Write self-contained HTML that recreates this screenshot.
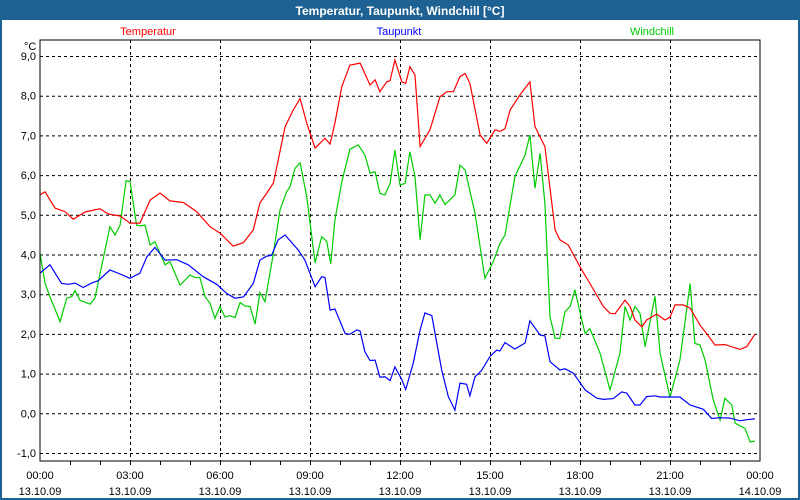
<!DOCTYPE html>
<html><head><meta charset="utf-8"><style>
html,body{margin:0;padding:0;background:#fff}
svg{display:block;font-family:"Liberation Sans",sans-serif}
</style></head><body>
<svg id="c" width="800" height="500" xmlns="http://www.w3.org/2000/svg">
<rect x="0" y="0" width="800" height="500" fill="#1e6193"/>
<rect x="2" y="20" width="796" height="478" fill="#fff"/>
<text x="400" y="15" text-anchor="middle" fill="#fff" font-weight="bold" font-size="12">Temperatur, Taupunkt, Windchill [°C]</text>
<text x="148" y="35" text-anchor="middle" fill="#f00" font-size="11">Temperatur</text>
<text x="399" y="35" text-anchor="middle" fill="#00f" font-size="11">Taupunkt</text>
<text x="652" y="35" text-anchor="middle" fill="#0c0" font-size="11">Windchill</text>
<text x="24" y="50" font-size="11">°C</text>
<g id="grid"></g>
<g id="series"></g>
<rect x="40" y="40" width="720" height="421" fill="none" stroke="#000" stroke-width="1"/>
</svg>
<script>
const yTicks=[9,8,7,6,5,4,3,2,1,0,-1];
const xTickHours=[0,3,6,9,12,15,18,21,24];
const xTickTimes=["00:00","03:00","06:00","09:00","12:00","15:00","18:00","21:00","00:00"];
const xTickDates=["13.10.09","13.10.09","13.10.09","13.10.09","13.10.09","13.10.09","13.10.09","13.10.09","14.10.09"];
const tempHours=[0,.17,.5,.83,1.11,1.5,2,2.28,2.67,3,3.33,3.67,4,4.33,4.78,5.22,5.67,6,6.44,6.78,7.11,7.33,7.56,7.78,7.94,8.17,8.44,8.67,8.89,9.17,9.5,9.67,9.83,10.06,10.33,10.67,11,11.17,11.33,11.56,11.67,11.83,12.06,12.19,12.33,12.5,12.67,13,13.33,13.56,13.78,14,14.17,14.33,14.67,14.89,15.17,15.33,15.5,15.67,16,16.33,16.5,16.83,17.17,17.33,17.61,18,18.33,18.78,19,19.17,19.5,19.67,19.83,20.06,20.22,20.56,20.83,21,21.17,21.44,21.67,22,22.22,22.5,22.83,23.33,23.56,23.83];
const tempValues=[5.5,5.58,5.17,5.08,4.89,5.07,5.15,5.02,4.97,4.79,4.79,5.37,5.55,5.35,5.31,5.08,4.7,4.54,4.21,4.3,4.62,5.3,5.55,5.8,6.38,7.22,7.64,7.93,7.31,6.68,6.93,6.78,7.31,8.23,8.77,8.82,8.27,8.4,8.1,8.35,8.38,8.9,8.35,8.31,8.73,8.52,6.72,7.14,7.97,8.1,8.1,8.48,8.56,8.31,7.01,6.8,7.14,7.1,7.17,7.64,8.02,8.35,7.22,6.72,4.62,4.37,4.24,3.69,3.27,2.69,2.52,2.51,2.85,2.69,2.35,2.18,2.35,2.5,2.35,2.42,2.73,2.73,2.65,2.22,2.01,1.72,1.73,1.61,1.68,1.99];
const dewHours=[0,.33,.72,.94,1.17,1.44,1.72,1.94,2.33,2.67,3,3.33,3.56,3.83,4.17,4.56,4.94,5.44,5.89,6.22,6.5,6.78,7.11,7.33,7.56,7.72,7.94,8.17,8.61,8.83,9.17,9.39,9.5,9.67,9.83,10.17,10.33,10.56,10.67,10.83,11,11.17,11.33,11.5,11.67,11.83,12.06,12.19,12.44,12.67,12.83,13.06,13.39,13.61,13.83,14,14.22,14.33,14.5,14.72,15,15.22,15.33,15.5,15.83,16.17,16.33,16.67,16.83,17,17.33,17.5,17.78,18.17,18.56,18.78,19.11,19.39,19.56,19.83,20,20.22,20.5,20.67,21.33,21.67,22.11,22.39,22.67,23,23.33,23.56,23.83];
const dewValues=[3.53,3.74,3.27,3.25,3.28,3.17,3.28,3.34,3.61,3.51,3.4,3.53,3.94,4.18,3.86,3.87,3.74,3.44,3.25,3.02,2.9,2.93,3.27,3.86,3.96,3.98,4.37,4.49,4.11,3.86,3.19,3.44,3.42,2.6,2.63,2.01,1.99,2.1,2.07,1.55,1.33,1.34,.91,.92,.82,1.17,.85,.6,1.26,2.1,2.53,2.46,1.09,.42,.08,.76,.73,.44,.92,1.08,1.43,1.59,1.57,1.78,1.62,1.77,2.33,1.97,1.95,1.3,1.09,1.12,1.01,.59,.38,.35,.37,.54,.51,.21,.21,.42,.44,.41,.41,.21,.1,-.13,-.11,-.12,-.19,-.16,-.14];
const windHours=[0,.17,.33,.67,.89,1.06,1.17,1.33,1.67,1.83,2.33,2.5,2.67,2.87,3,3.22,3.33,3.5,3.67,3.83,4.17,4.33,4.67,5,5.17,5.33,5.5,5.67,5.83,6,6.17,6.33,6.5,6.67,6.83,7,7.17,7.33,7.5,7.78,8,8.22,8.33,8.5,8.67,8.89,9.17,9.39,9.56,9.69,9.83,10.06,10.33,10.61,10.83,11,11.17,11.33,11.5,11.67,11.83,12,12.17,12.33,12.5,12.67,12.83,13,13.17,13.33,13.5,13.83,14,14.17,14.5,14.83,15.11,15.33,15.5,15.83,16.17,16.33,16.5,16.67,16.83,17,17.17,17.33,17.5,17.67,17.83,18.06,18.17,18.33,18.67,19,19.33,19.5,19.67,19.83,20,20.17,20.5,20.67,21,21.33,21.67,21.83,22,22.17,22.44,22.67,22.83,23.06,23.17,23.5,23.67,23.83];
const windValues=[4.03,3.27,2.94,2.31,2.9,2.94,3.09,2.85,2.75,2.9,4.7,4.49,4.74,5.86,5.84,4.74,4.72,4.74,4.24,4.32,3.74,3.82,3.23,3.48,3.42,3.42,2.94,2.77,2.39,2.69,2.42,2.46,2.41,2.79,2.7,2.69,2.25,3.04,2.81,4.03,5.12,5.58,5.7,6.17,6.31,5.46,3.79,4.45,4.33,3.76,4.87,5.83,6.65,6.76,6.51,6.05,6.08,5.54,5.5,5.79,6.63,5.75,5.79,6.59,5.96,4.37,5.5,5.5,5.29,5.5,5.26,5.5,6.25,6.13,5.04,3.4,3.82,4.28,4.49,5.96,6.51,7.01,5.67,6.55,5.29,2.43,1.89,1.89,2.56,2.69,3.11,2.35,2.01,2.13,1.51,.59,1.51,2.69,2.35,2.69,2.52,1.68,2.95,1.51,.4,1.34,3.27,1.76,1.72,1.34,.34,-.17,.38,.21,-.25,-.38,-.72,-.7];

const NS="http://www.w3.org/2000/svg";
const X0=40,X1=760,Y9=56,Ym1=453;
function xs(h){return X0+(X1-X0)*h/24;}
function ys(v){return Ym1-(v+1)*(Ym1-Y9)/10;}
const grid=document.getElementById('grid');
function mk(tag,attrs,parent){const e=document.createElementNS(NS,tag);for(const k in attrs)e.setAttribute(k,attrs[k]);parent.appendChild(e);return e;}
yTicks.forEach(v=>{
  const l=mk('line',{x1:X0,x2:X1,y1:ys(v)+.5,y2:ys(v)+.5,stroke:'#000','stroke-dasharray':'3,3'},grid);
  
  
  const t=mk('text',{x:36,y:ys(v)+4,'text-anchor':'end','font-size':11},grid);
  t.textContent=v.toFixed(1).replace('.',',');
  
  
});
for(let h=1;h<24;h++){
  const tk=mk('line',{x1:xs(h)+.5,x2:xs(h)+.5,y1:461,y2:465,stroke:'#000'},grid);
  
  
}
xTickHours.forEach((h,i)=>{
  if(h>0&&h<24){
    const l=mk('line',{x1:xs(h)+.5,x2:xs(h)+.5,y1:40,y2:461,stroke:'#000','stroke-dasharray':'3,3'},grid);
    
    
  }
  const t1=mk('text',{x:xs(h),y:479,'text-anchor':'middle','font-size':11},grid);
  t1.textContent=xTickTimes[i];
  
  
  const t2=mk('text',{x:xs(h),y:495,'text-anchor':'middle','font-size':11},grid);
  t2.textContent=xTickDates[i];
  
  
});
const ser=document.getElementById('series');
function line(hs,vs,color,name){
  const p=mk('polyline',{points:hs.map((h,i)=>xs(h).toFixed(1)+','+ys(vs[i]).toFixed(1)).join(' '),fill:'none',stroke:color,'stroke-width':1.2},ser);
  
  
}
line(windHours,windValues,'#00cc00','windchill-line');
line(tempHours,tempValues,'#ff0000','temperatur-line');
line(dewHours,dewValues,'#0000ff','taupunkt-line');
</script>
</body></html>
